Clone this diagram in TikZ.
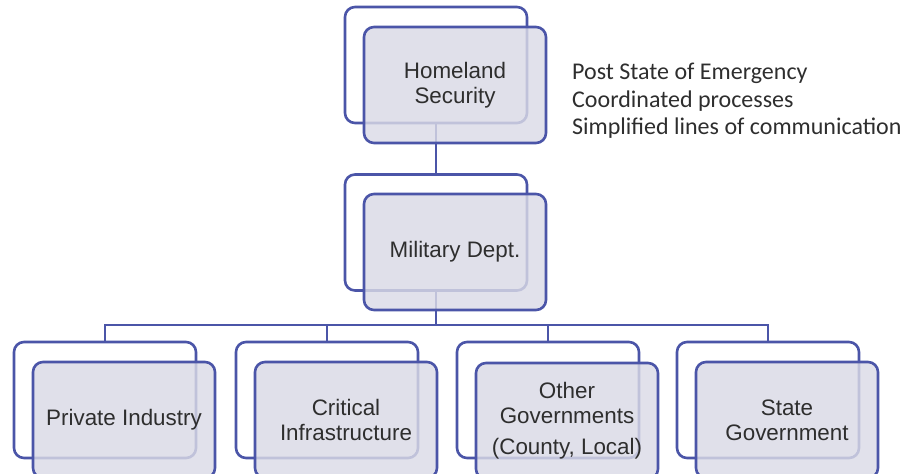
\documentclass[tikz,border=0pt]{standalone}
\usepackage{fontspec}
\setmainfont{Liberation Sans}
\newfontfamily\notefont{Carlito}
\definecolor{boxline}{HTML}{4B55A8}
\definecolor{boxfill}{HTML}{DADAE6}
\definecolor{ink}{HTML}{2E2E2E}
\begin{document}
\begin{tikzpicture}[x=1pt,y=-1pt,
  backbox/.style={draw=boxline, line width=2.6pt, fill=white, rounded corners=10pt,
    minimum width=182pt, minimum height=116pt, inner sep=0pt},
  frontbox/.style={draw=boxline, line width=2.6pt, fill=boxfill, fill opacity=0.82,
    text opacity=1, rounded corners=10pt, minimum width=182pt, minimum height=116pt,
    inner sep=0pt, align=center, text=ink, font=\fontsize{22.4}{25}\selectfont},
  link/.style={draw=boxline, line width=2.8pt},
  note/.style={anchor=west, text=ink, font=\notefont\fontsize{24}{27.5}\selectfont, align=left, inner sep=0pt}]
\useasboundingbox (0,0) rectangle (908,474);

% back frames
\node[backbox] (hsB)  at (436,65)  {};
\node[backbox] (milB) at (436,232.5) {};
\node[backbox] (piB)  at (105,400) {};
\node[backbox] (ciB)  at (327,400) {};
\node[backbox] (ogB)  at (548,400) {};
\node[backbox] (sgB)  at (768,400) {};

% connectors
\coordinate (bar) at (436,325);
\draw[link] (hsB.south) -- (milB.north);
\draw[link] (milB.south) -- (bar);
\draw[link] (bar) -| (piB.north);
\draw[link] (bar) -| (ciB.north);
\draw[link] (bar) -| (ogB.north);
\draw[link] (bar) -| (sgB.north);

% front boxes
\node[frontbox] (hs)  at (455,85)  {Homeland\\Security};
\node[frontbox] (mil) at (455,252) {Military Dept.};
\node[frontbox] (pi)  at (124,420) {Private Industry};
\node[frontbox] (ci)  at (346,420) {Critical\\Infrastructure};
\node[frontbox] (og)  at (567,421) {Other\\Governments\\[6pt](County, Local)};
\node[frontbox] (sg)  at (787,420) {State\\Government};

% side notes
\node[note] (notes) at (572,101) {Post State of Emergency\\Coordinated processes\\Simplified lines of communication};
\end{tikzpicture}
\end{document}
